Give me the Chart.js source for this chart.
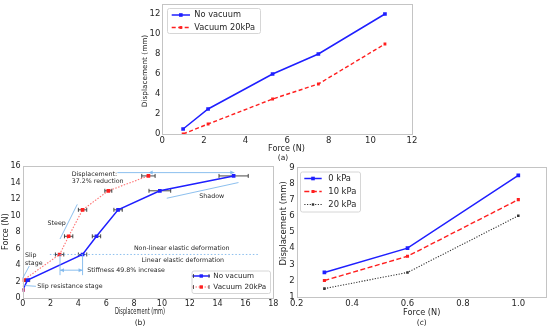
<!DOCTYPE html>
<html><head><meta charset="utf-8">
<script src="https://cdn.jsdelivr.net/npm/chart.js@4.4.1/dist/chart.umd.min.js"></script>
<style>
html,body{margin:0;padding:0;background:#fff;}
#wrap{position:relative;width:550px;height:329px;overflow:hidden;background:#fff;}
canvas{position:absolute;left:0;top:0;}
</style></head><body>
<div id="wrap">
<canvas id="ca" width="550" height="329"></canvas>
<canvas id="cb" width="550" height="329"></canvas>
<canvas id="cc" width="550" height="329"></canvas>
</div>
<script>
// ---------- (a) ----------
const aForce = [1, 2.2, 5.3, 7.5, 10.7];
const aNoVacuum = [0.5, 2.5, 6, 8, 12];
const aVacuum20 = [0, 1, 3.5, 5, 9];
const aXTicks = [0, 2, 4, 6, 8, 10, 12];
const aYTicks = [0, 2, 4, 6, 8, 10, 12];
// ---------- (b) ----------
const bForce = [1, 2.2, 5.3, 7.5, 10.7, 13, 14.8];
const bDispNoVacuum = [0, 0.35, 4.3, 5.3, 6.85, 9.85, 15.15];
const bErrNoVacuum = [0, 0.15, 0.3, 0.3, 0.3, 0.78, 1.05];
const bDispVacuum20 = [0, 0.05, 2.65, 3.3, 4.3, 6.15, 9.03];
const bErrVacuum20 = [0, 0, 0.3, 0.3, 0.3, 0.25, 0.48];
const bXTicks = [0, 2, 4, 6, 8, 10, 12, 14, 16, 18];
const bYTicks = [0, 2, 4, 6, 8, 10, 12, 14, 16];
// ---------- (c) ----------
const cForce = [0.3, 0.6, 1.0];
const c0kPa = [2.5, 4, 8.5];
const c10kPa = [2, 3.5, 7];
const c20kPa = [1.5, 2.5, 6];
const cXTicks = [0.2, 0.4, 0.6, 0.8, 1.0];
const cYTicks = [1, 2, 3, 4, 5, 6, 7, 8, 9];

const FONT = 'DejaVu Sans';
const TXT = '#262626';
const BLUE = '#1f1fff';
const RED = '#ff1f1f';
const LB = 'rgba(120,180,235,0.85)';

function pts(xs, ys) { return xs.map((x, i) => ({x: x, y: ys[i]})); }

function txt(ctx, s, x, y, o) {
  o = o || {};
  ctx.save();
  ctx.translate(x, y);
  if (o.rot) ctx.rotate(o.rot);
  ctx.scale(o.sx || 1, 1);
  ctx.font = (o.size || 8) + 'px "' + FONT + '"';
  ctx.fillStyle = o.color || TXT;
  ctx.textAlign = o.align || 'center';
  ctx.textBaseline = 'middle';
  ctx.fillText(s, 0, 0);
  ctx.restore();
}
function line(ctx, x1, y1, x2, y2, color, w, dash) {
  ctx.save();
  ctx.strokeStyle = color; ctx.lineWidth = w || 1;
  ctx.setLineDash(dash || []);
  ctx.beginPath(); ctx.moveTo(x1, y1); ctx.lineTo(x2, y2); ctx.stroke();
  ctx.restore();
}
function head(ctx, x, y, dir, color) {
  ctx.save(); ctx.fillStyle = color;
  ctx.beginPath();
  ctx.moveTo(x, y); ctx.lineTo(x - dir * 4, y - 2); ctx.lineTo(x - dir * 4, y + 2);
  ctx.closePath(); ctx.fill(); ctx.restore();
}
function frame(chart) {
  const a = chart.chartArea, ctx = chart.ctx;
  ctx.save(); ctx.strokeStyle = '#c4c4c4'; ctx.lineWidth = 1;
  ctx.strokeRect(Math.round(a.left) + 0.5, Math.round(a.top) + 0.5,
    Math.round(a.right) - Math.round(a.left), Math.round(a.bottom) - Math.round(a.top));
  ctx.restore();
}
function marker(ctx, x, y, s, color) {
  ctx.fillStyle = color; ctx.fillRect(x - s / 2, y - s / 2, s, s);
}
function legend(ctx, box, items) {
  ctx.save();
  ctx.fillStyle = 'rgba(255,255,255,0.9)';
  ctx.strokeStyle = '#d6d6d6'; ctx.lineWidth = 1;
  ctx.beginPath();
  if (ctx.roundRect) ctx.roundRect(box.x + 0.5, box.y + 0.5, box.w, box.h, 2);
  else ctx.rect(box.x + 0.5, box.y + 0.5, box.w, box.h);
  ctx.fill(); ctx.stroke();
  items.forEach(it => {
    line(ctx, box.lx1, it.y, box.lx2, it.y, it.color, it.width, it.dash);
    if (it.caps) {
      line(ctx, box.lx1 + 1, it.y - 2, box.lx1 + 1, it.y + 2, '#333', 0.8);
      line(ctx, box.lx2 - 1, it.y - 2, box.lx2 - 1, it.y + 2, '#333', 0.8);
    }
    marker(ctx, (box.lx1 + box.lx2) / 2, it.y, it.ms, it.mcolor || it.color);
    txt(ctx, it.label, box.tx, it.y, {size: box.size, align: 'left'});
  });
  ctx.restore();
}

function scale(pos, min, max, ticks, size, fontSize, pad, fmt) {
  return {
    type: 'linear', position: pos, min: min, max: max,
    afterBuildTicks: s => { s.ticks = ticks.map(v => ({value: v})); },
    afterFit: s => {
      if (pos === 'left') s.width = size; else s.height = size;
      s.paddingTop = 0; s.paddingBottom = 0; s.paddingLeft = 0; s.paddingRight = 0;
    },
    grid: {display: false, drawTicks: false},
    border: {display: false},
    ticks: {
      color: TXT, font: {family: FONT, size: fontSize}, padding: pad,
      autoSkip: false, maxRotation: 0, minRotation: 0,
      callback: fmt || (v => String(v))
    }
  };
}
function baseOpts(pad, scales) {
  return {
    responsive: false, animation: false, devicePixelRatio: 1,
    layout: {padding: pad},
    plugins: {legend: {display: false}, tooltip: {enabled: false}},
    events: [],
    scales: scales
  };
}

// ================= Chart (a) =================
new Chart(document.getElementById('ca'), {
  type: 'scatter',
  data: {datasets: [
    {label: 'No vacuum', data: pts(aForce, aNoVacuum), showLine: true,
     borderColor: BLUE, borderWidth: 1.5, pointStyle: 'rect', pointRadius: 2.6,
     pointBackgroundColor: BLUE, pointBorderWidth: 0},
    {label: 'Vacuum 20kPa', data: pts(aForce, aVacuum20), showLine: true,
     borderColor: RED, borderWidth: 1.4, borderDash: [4, 2.5], pointStyle: 'rect', pointRadius: 2,
     pointBackgroundColor: RED, pointBorderWidth: 0}
  ]},
  options: baseOpts({left: 132.3, right: 138, top: 4, bottom: 165}, {
    x: scale('bottom', 0, 12, aXTicks, 30, 8.5, 2),
    y: scale('left', 0, 13, aYTicks, 30, 8.5, 2)
  }),
  plugins: [{id: 'decoA', afterDraw(chart) {
    const ctx = chart.ctx;
    frame(chart);
    txt(ctx, 'Force (N)', 286.5, 149, {size: 8.1});
    txt(ctx, '(a)', 283, 158.5, {size: 7.5});
    txt(ctx, 'Displacement (mm)', 145, 71, {size: 7.3, rot: -Math.PI / 2});
    legend(ctx, {x: 167, y: 8, w: 93, h: 25, lx1: 171.7, lx2: 190, tx: 194.3, size: 8.25}, [
      {label: 'No vacuum', y: 15, color: BLUE, width: 1.5, ms: 3.6},
      {label: 'Vacuum 20kPa', y: 27.5, color: RED, width: 1.4, dash: [4, 2.5], ms: 2.8}
    ]);
  }}]
});

// ================= Chart (b) =================
new Chart(document.getElementById('cb'), {
  type: 'scatter',
  data: {datasets: [
    {label: 'Vacuum 20kPa', data: pts(bDispVacuum20, bForce), showLine: true,
     borderColor: 'rgba(255,90,90,0.85)', borderWidth: 1.1, borderDash: [1.5, 1.5],
     pointStyle: 'rect', pointRadius: 2.6, pointBackgroundColor: RED, pointBorderWidth: 0},
    {label: 'No vacuum', data: pts(bDispNoVacuum, bForce), showLine: true,
     borderColor: BLUE, borderWidth: 1.5, pointStyle: 'rect', pointRadius: 2.6,
     pointBackgroundColor: BLUE, pointBorderWidth: 0}
  ]},
  options: baseOpts({left: 2.7, right: 276.7, top: 166, bottom: 10.7}, {
    x: scale('bottom', 0, 18, bXTicks, 20, 8, 1),
    y: scale('left', 0, 16, bYTicks, 20, 8, 2)
  }),
  plugins: [{id: 'decoB',
    beforeDatasetsDraw(chart) {
      const ctx = chart.ctx, sx = chart.scales.x, sy = chart.scales.y;
      const bars = (xs, es) => xs.forEach((x, i) => {
        if (!es[i]) return;
        const y = sy.getPixelForValue(bForce[i]);
        const x1 = sx.getPixelForValue(x - es[i]), x2 = sx.getPixelForValue(x + es[i]);
        line(ctx, x1, y, x2, y, '#333', 0.9);
        line(ctx, x1, y - 2, x1, y + 2, '#333', 0.9);
        line(ctx, x2, y - 2, x2, y + 2, '#333', 0.9);
      });
      bars(bDispNoVacuum, bErrNoVacuum);
      bars(bDispVacuum20, bErrVacuum20);
    },
    afterDraw(chart) {
      const ctx = chart.ctx, sx = chart.scales.x, sy = chart.scales.y;
      const X = v => sx.getPixelForValue(v), Y = v => sy.getPixelForValue(v);
      frame(chart);
      // elastic boundary
      line(ctx, X(1.95), Y(5.3), X(17.0), Y(5.3), LB, 1, [1.5, 2]);
      txt(ctx, 'Non-linear elastic deformation', X(11.42), Y(6.05), {size: 6.3});
      txt(ctx, 'Linear elastic deformation', X(11.5), Y(4.55), {size: 6.3});
      // steep
      line(ctx, X(2.68), Y(7.17), X(3.92), Y(11.36), LB, 1);
      txt(ctx, 'Steep', X(2.44), Y(9.07), {size: 6.3});
      // shadow
      line(ctx, X(10.35), Y(12.1), X(15.5), Y(14.0), LB, 1);
      txt(ctx, 'Shadow', X(13.58), Y(12.29), {size: 6.3});
      // displacement reduction arrow
      line(ctx, X(6.8), Y(15.2), X(15.2), Y(15.2), LB, 1);
      head(ctx, X(9.05), Y(15.2), -1, LB);
      head(ctx, X(15.2), Y(15.2), 1, LB);
      txt(ctx, 'Displacement:', X(3.52), Y(15.0), {size: 6.3, align: 'left'});
      txt(ctx, '37.2% reduction', X(3.52), Y(14.1), {size: 6.3, align: 'left'});
      // stiffness
      line(ctx, X(2.68), Y(5.3), X(2.68), Y(2.8), LB, 1);
      line(ctx, X(4.3), Y(5.3), X(4.3), Y(2.8), LB, 1);
      line(ctx, X(2.68), Y(3.4), X(4.3), Y(3.4), LB, 1);
      head(ctx, X(2.68), Y(3.4), -1, LB);
      head(ctx, X(4.3), Y(3.4), 1, LB);
      txt(ctx, 'Stiffness 49.8% increase', X(4.64), Y(3.42), {size: 6.3, align: 'left'});
      // slip
      line(ctx, X(0.0), Y(2.42), X(0.47), Y(3.9), LB, 1);
      txt(ctx, 'Slip', X(0.17), Y(5.24), {size: 6.3, align: 'left'});
      txt(ctx, 'stage', X(0.17), Y(4.23), {size: 6.3, align: 'left'});
      line(ctx, X(0.12), Y(1.55), X(0.95), Y(1.45), LB, 1);
      txt(ctx, 'Slip resistance stage', X(1.05), Y(1.49), {size: 6.3, align: 'left'});
      // titles
      txt(ctx, 'Displacement (mm)', 140, 311.7, {size: 8, sx: 0.63});
      txt(ctx, '(b)', 140, 323.3, {size: 7.6});
      txt(ctx, 'Force (N)', 6, 231.7, {size: 8, rot: -Math.PI / 2});
      legend(ctx, {x: 191.5, y: 270.5, w: 78.5, h: 22.5, lx1: 192.5, lx2: 210, tx: 213.3, size: 7.2}, [
        {label: 'No vacuum', y: 276, color: BLUE, width: 1.5, ms: 3.4, caps: true},
        {label: 'Vacuum 20kPa', y: 287, color: 'rgba(255,90,90,0.85)', mcolor: RED, width: 1.1, dash: [1.5, 1.5], ms: 3.4, caps: true}
      ]);
    }}]
});

// ================= Chart (c) =================
new Chart(document.getElementById('cc'), {
  type: 'scatter',
  data: {datasets: [
    {label: '0 kPa', data: pts(cForce, c0kPa), showLine: true,
     borderColor: BLUE, borderWidth: 1.5, pointStyle: 'rect', pointRadius: 2.6,
     pointBackgroundColor: BLUE, pointBorderWidth: 0},
    {label: '10 kPa', data: pts(cForce, c10kPa), showLine: true,
     borderColor: RED, borderWidth: 1.4, borderDash: [5, 2.5], pointStyle: 'rect', pointRadius: 2.2,
     pointBackgroundColor: RED, pointBorderWidth: 0},
    {label: '20 kPa', data: pts(cForce, c20kPa), showLine: true,
     borderColor: '#333', borderWidth: 1.1, borderDash: [1.2, 1.5], pointStyle: 'rect', pointRadius: 1.8,
     pointBackgroundColor: '#333', pointBorderWidth: 0}
  ]},
  options: baseOpts({left: 278.7, right: 4, top: 167.3, bottom: 12.3}, {
    x: scale('bottom', 0.2, 1.1, cXTicks, 20, 8.5, 2, v => v.toFixed(1)),
    y: scale('left', 1, 9, cYTicks, 18, 8.5, 2)
  }),
  plugins: [{id: 'decoC', afterDraw(chart) {
    const ctx = chart.ctx;
    frame(chart);
    txt(ctx, 'Force (N)', 421.7, 313.3, {size: 8.2});
    txt(ctx, '(c)', 421.7, 323.5, {size: 7.5});
    txt(ctx, 'Displacement (mm)', 284, 223.3, {size: 8.5, rot: -Math.PI / 2});
    legend(ctx, {x: 300, y: 171.5, w: 60, h: 40, lx1: 304.3, lx2: 321.7, tx: 328.3, size: 8.4}, [
      {label: '0 kPa', y: 178.5, color: BLUE, width: 1.5, ms: 3.6},
      {label: '10 kPa', y: 191.5, color: RED, width: 1.4, dash: [5, 2.5], ms: 3},
      {label: '20 kPa', y: 204.5, color: '#333', width: 1.1, dash: [1.2, 1.5], ms: 2.4}
    ]);
  }}]
});
</script>
</body></html>
